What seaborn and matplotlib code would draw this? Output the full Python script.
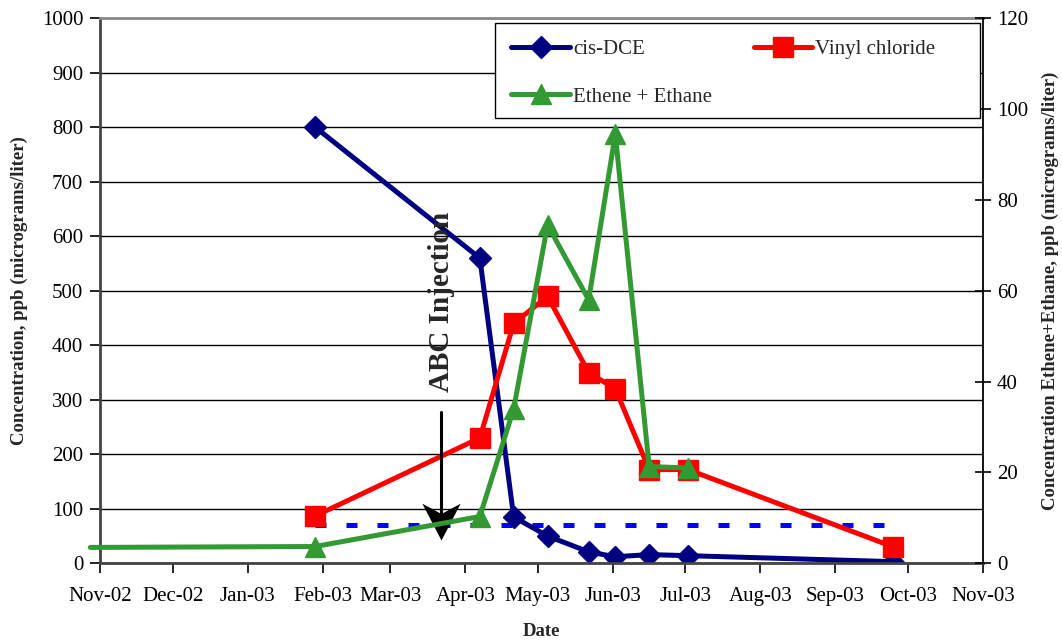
import matplotlib
matplotlib.use("Agg")
import matplotlib.pyplot as plt
import matplotlib.dates as mdates
from matplotlib.path import Path
from matplotlib.patches import Rectangle
import pandas as pd
import seaborn as sns

# sampling dates (cis-DCE and vinyl chloride share them)
sample_dates = pd.to_datetime(["2003-01-29", "2003-04-07", "2003-04-21", "2003-05-05",
                               "2003-05-22", "2003-06-02", "2003-06-16", "2003-07-02",
                               "2003-09-25"])
cis_dce = [800, 560, 85, 50, 21, 12, 16, 14, 3]
vinyl_chloride = [87, 230, 440, 490, 350, 320, 172, 172, 30]

# ethene + ethane (right axis), first value is from before the plotted window
ethene_dates = pd.to_datetime(["2002-10-28", "2003-01-29", "2003-04-07", "2003-04-21",
                               "2003-05-05", "2003-05-22", "2003-06-02", "2003-06-16",
                               "2003-07-02"])
ethene_ethane = [3.5, 3.7, 10.3, 34, 74.5, 58, 94.5, 21.3, 21]

# cis-DCE limit line
limit_dates = pd.to_datetime(["2003-01-29", "2003-09-25"])
limit_values = [70, 70]

month_ticks = pd.date_range("2002-11-01", "2003-11-01", freq="MS")
injection_date = pd.Timestamp("2003-03-22")
arrow_top, arrow_tip = 278, 43

sns.set_theme(style="white")
plt.rcParams['font.family'] = ['Liberation Serif', 'DejaVu Serif']

fig = plt.figure(figsize=(10.62, 6.44), dpi=100)
ax = fig.add_axes([0.0942, 0.1253, 0.8314, 0.8463])
ax2 = ax.twinx()

# left axis series
sns.lineplot(x=limit_dates, y=limit_values, ax=ax, color='#0000FF', linewidth=3.6,
             linestyle=(0, (2.2, 4)))
sns.lineplot(x=sample_dates, y=cis_dce, ax=ax, color='#000080', linewidth=3.6, sort=False,
             marker='D', markersize=11, markeredgecolor='#000080', markeredgewidth=1)
sns.lineplot(x=sample_dates, y=vinyl_chloride, ax=ax, color='#FF0000', linewidth=3.6, sort=False,
             marker='s', markersize=14, markeredgecolor='#FF0000', markeredgewidth=1)
line_dce = ax.lines[1]
line_vc = ax.lines[2]

# right axis series
sns.lineplot(x=ethene_dates, y=ethene_ethane, ax=ax2, color='#339933', linewidth=3.6, sort=False,
             marker='^', markersize=15, markeredgecolor='#339933', markeredgewidth=1,
             markevery=list(range(1, len(ethene_ethane))), clip_on=False)
line_eth = ax2.lines[0]

# axes setup
ax.set_xlim(month_ticks[0], month_ticks[-1])
ax.set_xticks(month_ticks)
ax.xaxis.set_major_formatter(mdates.DateFormatter('%b-%y'))
ax.set_ylim(0, 1000)
ax.set_yticks(range(0, 1001, 100))
ax2.set_ylim(0, 120)
ax2.set_yticks(range(0, 121, 20))

ax.grid(axis='y', color='black', linewidth=1)
ax.grid(axis='x', visible=False)
ax.set_axisbelow(True)

ax.tick_params(axis='both', which='major', labelsize=15, colors='black', direction='out',
               length=7, width=1.2, left=True, bottom=True)
ax.tick_params(axis='x', pad=10)
ax.tick_params(axis='y', pad=5)
ax2.tick_params(axis='y', labelsize=15, colors='black', direction='inout', length=12,
                width=1.2, right=True, pad=4)

for side in ['left', 'bottom']:
    ax.spines[side].set_color('#444444')
    ax.spines[side].set_linewidth(2)
ax.spines['top'].set_color('#888888')
ax.spines['top'].set_linewidth(2)
ax.spines['right'].set_visible(False)
for side in ['left', 'bottom', 'top']:
    ax2.spines[side].set_visible(False)
ax2.spines['right'].set_color('black')
ax2.spines['right'].set_linewidth(1.3)

ax.set_xlabel('Date', fontsize=13.5, fontweight='bold')
ax.xaxis.label.set_va('center')
ax.xaxis.set_label_coords(0.5, -0.126)
ax.set_ylabel('Concentration, ppb (micrograms/liter)', fontsize=13.5, fontweight='bold')
ax.yaxis.label.set_va('center')
ax.yaxis.label.set_ha('center')
ax.yaxis.set_label_coords(-0.091, 0.5)
ax2.set_ylabel('Concentration Ethene+Ethane, ppb (micrograms/liter)', fontsize=13.5,
               fontweight='bold', rotation=90)
ax2.yaxis.label.set_va('center')
ax2.yaxis.label.set_ha('center')
ax2.yaxis.set_label_coords(1.0758, 0.5)

# injection arrow (shaft + concave head) and label
head = Path([(0, 0), (-0.52, 1), (0, 0.72), (0.52, 1), (0, 0)],
            [Path.MOVETO, Path.LINETO, Path.LINETO, Path.LINETO, Path.CLOSEPOLY])
ax.plot([injection_date, injection_date], [arrow_top, arrow_tip + 30], color='black', lw=2.2)
ax.plot([injection_date], [arrow_tip], marker=head, markersize=53, color='black',
        markeredgewidth=0, linestyle='none')
ax.text(injection_date, 479, 'ABC Injection', rotation=90, ha='center', va='center',
        fontsize=21, fontweight='bold')

# legend with its own box (the box in the original is wider than its content)
ax2.add_patch(Rectangle((0.447, 0.817), 0.5496, 0.175, transform=ax2.transAxes,
                        facecolor='white', edgecolor='black', linewidth=1, zorder=4.9))
leg = ax2.legend([line_dce, line_eth, line_vc], ['cis-DCE', 'Ethene + Ethane', 'Vinyl chloride'],
                 ncol=2, loc='upper left', bbox_to_anchor=(0.447, 0.992),
                 borderaxespad=0, fontsize=15, frameon=False,
                 handlelength=2.8, handletextpad=0.15,
                 labelspacing=1.35, borderpad=0.8, columnspacing=2.0, numpoints=1)

plt.savefig('out.png', dpi=100)
